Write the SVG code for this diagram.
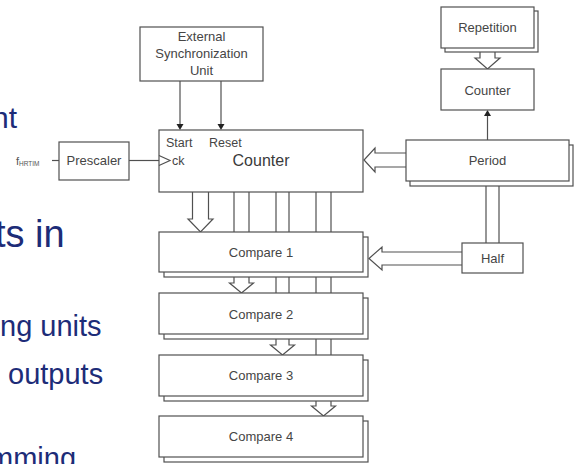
<svg xmlns="http://www.w3.org/2000/svg" width="579" height="464" viewBox="0 0 579 464">
  <style>
    .box { fill: #ffffff; stroke: #505050; stroke-width: 1.2; }
    .ln { fill: none; stroke: #505050; stroke-width: 1.2; }
    .hol { fill: #ffffff; stroke: #505050; stroke-width: 1.2; stroke-linejoin: miter; }
    .head { fill: #222222; }
    .lbl { font-family: "Liberation Sans", Arial, sans-serif; font-size: 13px; fill: #454545; text-anchor: middle; }
    .sm { font-family: "Liberation Sans", Arial, sans-serif; font-size: 12.5px; fill: #454545; }
    .slide { font-family: "Liberation Sans", Arial, sans-serif; fill: #1d2c78; }
  </style>

  <rect width="579" height="464" fill="#ffffff"/>

  <!-- slide bullet text fragments on the left -->
  <g id="slide-text">
    <text class="slide" x="-8" y="128" font-size="30">nt</text>
    <text class="slide" x="-5" y="247" font-size="38" fill="#17245c">ts in</text>
    <text class="slide" x="0" y="336" font-size="29">ng units</text>
    <text class="slide" x="8" y="384" font-size="29">outputs</text>
    <text class="slide" x="-11" y="468" font-size="29">mming</text>
  </g>

  <!-- connectors -->
  <g id="connectors">
    <!-- external sync to counter -->
    <line class="ln" x1="180" y1="81" x2="180" y2="125"/>
    <polygon class="head" points="176.5,124 183.5,124 180,130"/>
    <line class="ln" x1="221" y1="81" x2="221" y2="125"/>
    <polygon class="head" points="217.5,124 224.5,124 221,130"/>
    <!-- clock input -->
    <line class="ln" x1="52" y1="160.5" x2="59" y2="160.5"/>
    <line class="ln" x1="129" y1="160.5" x2="159" y2="160.5"/>
    <!-- period to repetition counter -->
    <line class="ln" x1="487.5" y1="140" x2="487.5" y2="115"/>
    <polygon class="head" points="484,116 491,116 487.5,110"/>
    <!-- period to half -->
    <line class="ln" x1="486" y1="186" x2="486" y2="243"/>
    <line class="ln" x1="499" y1="186" x2="499" y2="243"/>
    <!-- counter value bus to compare units -->
    <line class="ln" x1="234" y1="192" x2="234" y2="232"/>
    <line class="ln" x1="249" y1="192" x2="249" y2="232"/>
    <line class="ln" x1="276" y1="192" x2="276" y2="232"/>
    <line class="ln" x1="289" y1="192" x2="289" y2="232"/>
    <line class="ln" x1="316" y1="192" x2="316" y2="232"/>
    <line class="ln" x1="331" y1="192" x2="331" y2="232"/>
    <line class="ln" x1="276" y1="277" x2="276" y2="293"/>
    <line class="ln" x1="289" y1="277" x2="289" y2="293"/>
    <line class="ln" x1="316" y1="277" x2="316" y2="293"/>
    <line class="ln" x1="331" y1="277" x2="331" y2="293"/>
    <line class="ln" x1="316" y1="339" x2="316" y2="355"/>
    <line class="ln" x1="331" y1="339" x2="331" y2="355"/>
    <!-- hollow bus arrows -->
    <path class="hol" d="M192.5,192 V219 H188 L200.5,232 L213,219 H208.5 V192"/>
    <path class="hol" d="M234,277 V283 H229.5 L241.5,293 L253.5,283 H249 V277"/>
    <path class="hol" d="M276,339 V345 H270.5 L282.5,355 L294.5,345 H289 V339"/>
    <path class="hol" d="M316,401 V406 H311.5 L323.5,416 L335.5,406 H331 V401"/>
    <path class="hol" d="M480,52 V58 H475 L487.5,69 L500,58 H495 V52"/>
    <path class="hol" d="M406,153 H375 V148 L364,160 L375,172 V167 H406"/>
    <path class="hol" d="M462,252 H382 V247 L369,258.5 L382,270 V265 H462"/>
  </g>

  <g id="ext-sync">
    <rect class="box" x="140" y="27" width="123" height="54"/>
    <text class="lbl" x="201.5" y="40.5">External</text>
    <text class="lbl" x="201.5" y="57.5">Synchronization</text>
    <text class="lbl" x="201.5" y="74.5">Unit</text>
  </g>

  <g id="f-hrtim">
    <text font-family="Liberation Sans, Arial, sans-serif" font-size="11" fill="#555555" x="16" y="164.5">f<tspan font-size="6.5" dy="1.5">HRTIM</tspan></text>
  </g>

  <g id="prescaler">
    <rect class="box" x="59" y="142" width="70" height="38"/>
    <text class="lbl" x="94" y="164.5">Prescaler</text>
  </g>

  <g id="counter">
    <rect class="box" x="159" y="130" width="204" height="62"/>
    <polyline class="ln" points="159,155.5 170,160.5 159,165.5"/>
    <text class="sm" x="166" y="147">Start</text>
    <text class="sm" x="209" y="147">Reset</text>
    <text class="sm" x="172" y="164.5">ck</text>
    <text font-family="Liberation Sans, Arial, sans-serif" font-size="16" fill="#3a3a3a" text-anchor="middle" x="261" y="166">Counter</text>
  </g>

  <g id="repetition">
    <rect class="box" x="445" y="11" width="93" height="41"/>
    <rect class="box" x="441" y="7" width="93" height="41"/>
    <text class="lbl" x="487.5" y="31.5">Repetition</text>
  </g>

  <g id="rep-counter">
    <rect class="box" x="441" y="69" width="93" height="41"/>
    <text class="lbl" x="487.5" y="94.5">Counter</text>
  </g>

  <g id="period">
    <rect class="box" x="410" y="145" width="163" height="41"/>
    <rect class="box" x="406" y="140" width="163" height="41"/>
    <text class="lbl" x="487.5" y="164.5">Period</text>
  </g>

  <g id="half">
    <rect class="box" x="462" y="243" width="61" height="30"/>
    <text class="lbl" x="492.5" y="262.5">Half</text>
  </g>

  <g id="compare-1">
    <rect class="box" x="164" y="237" width="204" height="40"/>
    <rect class="box" x="159" y="232" width="204" height="40"/>
    <text class="lbl" x="261" y="257">Compare 1</text>
  </g>

  <g id="compare-2">
    <rect class="box" x="164" y="298" width="204" height="41"/>
    <rect class="box" x="159" y="293" width="204" height="41"/>
    <text class="lbl" x="261" y="318.5">Compare 2</text>
  </g>

  <g id="compare-3">
    <rect class="box" x="164" y="360" width="204" height="41"/>
    <rect class="box" x="159" y="355" width="204" height="41"/>
    <text class="lbl" x="261" y="379.5">Compare 3</text>
  </g>

  <g id="compare-4">
    <rect class="box" x="164" y="421" width="204" height="41"/>
    <rect class="box" x="159" y="416" width="204" height="41"/>
    <text class="lbl" x="261" y="441">Compare 4</text>
  </g>
</svg>
